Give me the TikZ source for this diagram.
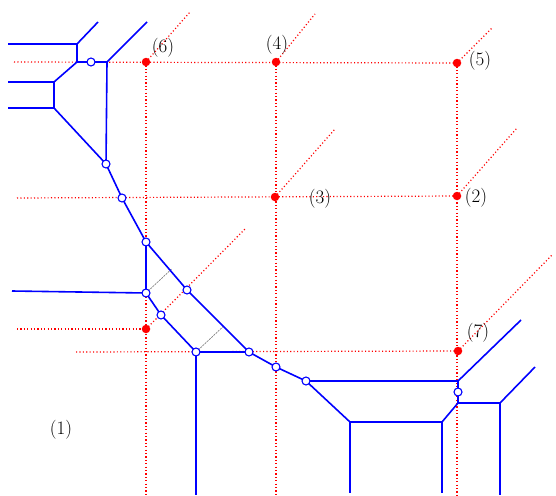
\documentclass[tikz,border=0pt]{standalone}
\usetikzlibrary{calc}
\begin{document}
\begin{tikzpicture}[x=1pt,y=-1pt,
  blueline/.style={blue,line width=1.6pt},
  redline/.style={red,line width=1.2pt,dash pattern=on 1.1pt off 2.3pt},
  grayline/.style={gray,line width=0.7pt,dash pattern=on 2pt off 1pt},
  vtx/.style={circle,draw=blue,fill=white,line width=1.1pt,inner sep=0pt,minimum size=8pt},
  rdot/.style={circle,fill=red,inner sep=0pt,minimum size=8.5pt},
  lab/.style={font=\fontsize{19}{22}\selectfont,inner sep=0pt}]
\useasboundingbox (0,0) rectangle (556,495);
% red points
\coordinate (R6) at (146,62);
\coordinate (R4) at (276,62);
\coordinate (R5) at (457,63);
\coordinate (R3) at (275,197);
\coordinate (R2) at (457,196);
\coordinate (R7) at (458,351);
\coordinate (R8) at (146,329);
% red line ends
\coordinate (h1) at (14,62);
\coordinate (h2) at (17,198);
\coordinate (h3) at (17,329);
\coordinate (h4) at (76,352);
\coordinate (v1) at (146,495);
\coordinate (v2) at (276,495);
\coordinate (v3) at (457,495);
\coordinate (d6) at (190,12);
\coordinate (d4) at (315,14);
\coordinate (d5) at (492,28);
\coordinate (d3) at (335,129);
\coordinate (d2) at (517,128);
\coordinate (d7) at (553,254);
\coordinate (d8) at (245,229);
\draw[redline] (h1) -- (R5);
\draw[redline] (h2) -- (R2);
\draw[redline] (h3) -- (R8);
\draw[redline] (h4) -- (R7);
\draw[redline] (R6) -- (v1);
\draw[redline] (R4) -- (v2);
\draw[redline] (R5) -- (v3);
\draw[redline] (R6) -- (d6);
\draw[redline] (R4) -- (d4);
\draw[redline] (R5) -- (d5);
\draw[redline] (R3) -- (d3);
\draw[redline] (R2) -- (d2);
\draw[redline] (R7) -- (d7);
\draw[redline] (R8) -- (d8);
% blue network coordinates
\coordinate (a1) at (8,44);
\coordinate (a2) at (77,44);
\coordinate (a3) at (98,22);
\coordinate (a4) at (77,62);
\coordinate (a5) at (107,62);
\coordinate (a6) at (147,22);
\coordinate (a7) at (54,82);
\coordinate (a8) at (8,82);
\coordinate (a9) at (54,108);
\coordinate (a10) at (8,108);
\coordinate (a11) at (12,291);
\coordinate (a12) at (458,381);
\coordinate (a13) at (521,320);
\coordinate (a14) at (458,403);
\coordinate (a15) at (500,403);
\coordinate (a16) at (535,367);
\coordinate (a17) at (500,495);
\coordinate (a18) at (442,422);
\coordinate (a19) at (350,422);
\coordinate (a20) at (350,493);
\coordinate (a21) at (442,493);
\coordinate (a22) at (196,495);
\coordinate (c1) at (91,62);
\coordinate (c2) at (106,164);
\coordinate (c3) at (122,198);
\coordinate (c4) at (146,242);
\coordinate (c5) at (146,293);
\coordinate (c6) at (187,290);
\coordinate (c7) at (249,352);
\coordinate (c8) at (161,315);
\coordinate (c9) at (196,352);
\coordinate (c10) at (276,367);
\coordinate (c11) at (306,381);
\coordinate (c12) at (458,392);
% gray connectors
\draw[grayline] (c5) -- ($(c4)!(c5)!(c7)$);
\draw[grayline] (c9) -- ($(c4)!(c9)!(c7)$);
% blue lines
\draw[blueline] (a1) -- (a2) -- (a3);
\draw[blueline] (a2) -- (a4) -- (a5) -- (a6);
\draw[blueline] (a5) -- (c2);
\draw[blueline] (a4) -- (a7) -- (a9) -- (c2);
\draw[blueline] (a8) -- (a7);
\draw[blueline] (a10) -- (a9);
\draw[blueline] (c2) -- (c3) -- (c4) -- (c5) -- (c8) -- (c9) -- (c7);
\draw[blueline] (a11) -- (c5);
\draw[blueline] (c4) -- (c6) -- (c7) -- (c10) -- (c11) -- (a12) -- (a13);
\draw[blueline] (c9) -- (a22);
\draw[blueline] (a12) -- (c12) -- (a14) -- (a15) -- (a16);
\draw[blueline] (a15) -- (a17);
\draw[blueline] (a14) -- (a18) -- (a19) -- (c11);
\draw[blueline] (a19) -- (a20);
\draw[blueline] (a18) -- (a21);
% vertices
\foreach \c in {c1,c2,c3,c4,c5,c6,c7,c8,c9,c10,c11,c12}
  \node[vtx] (n\c) at (\c) {};
% red dots
\foreach \r in {R6,R4,R5,R3,R2,R7,R8}
  \node[rdot] (n\r) at (\r) {};
% labels
\node[lab] (l1) at (61,430) {(1)};
\node[lab] (l2) at (476,198) {(2)};
\node[lab] (l3) at (320,199) {(3)};
\node[lab] (l4) at (277,45) {(4)};
\node[lab] (l5) at (480,61) {(5)};
\node[lab] (l6) at (163,48) {(6)};
\node[lab] (l7) at (478,333) {(7)};
\end{tikzpicture}
\end{document}
